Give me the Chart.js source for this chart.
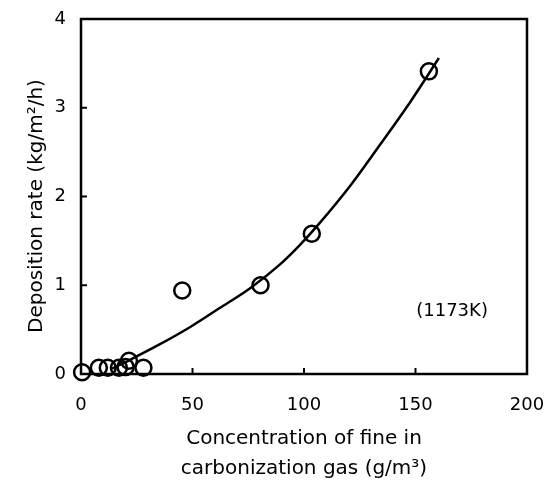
<!DOCTYPE html>
<html>
<head>
<meta charset="utf-8">
<script src="https://cdn.jsdelivr.net/npm/chart.js@4.4.1/dist/chart.umd.min.js"></script>
<style>
  html, body { margin: 0; padding: 0; background: #fff; }
  #wrap { width: 549px; height: 484px; position: relative; }
</style>
</head>
<body>
<div id="wrap"><canvas id="c" width="549" height="484"></canvas></div>
<script>
// Measured points: concentration of fine (g/m3) vs deposition rate (kg/m2/h)
const concentration = [0.5, 8, 12, 17, 20, 21.5, 28, 45.4, 80.5, 103.5, 156];
const depositionRate = [0.02, 0.07, 0.07, 0.07, 0.08, 0.15, 0.07, 0.94, 1.0, 1.58, 3.41];

// Fitted curve
const curveX = [14, 22, 35, 49, 62, 76, 89, 98, 107, 121, 134, 147.5, 160.5];
const curveY = [0.06, 0.16, 0.33, 0.53, 0.74, 0.97, 1.23, 1.45, 1.70, 2.13, 2.58, 3.06, 3.56];

const xTicks = [0, 50, 100, 150, 200];
const yTicks = [0, 1, 2, 3, 4];

const annotationText = '(1173K)';
const annotationX = 166.4;
const annotationY = 0.71;

const FONT = "'DejaVu Sans', sans-serif";

const framePlugin = {
  id: 'frame',
  afterDatasetsDraw(chart) {
    const {ctx, chartArea: a, scales: {x, y}} = chart;
    ctx.save();
    ctx.strokeStyle = '#000';
    ctx.lineWidth = 2.5;
    ctx.strokeRect(a.left, a.top, a.right - a.left, a.bottom - a.top);
    ctx.lineWidth = 2;
    ctx.beginPath();
    xTicks.forEach(v => {
      const px = x.getPixelForValue(v);
      ctx.moveTo(px, a.bottom);
      ctx.lineTo(px, a.bottom - 6);
    });
    yTicks.forEach(v => {
      const py = y.getPixelForValue(v);
      ctx.moveTo(a.left, py);
      ctx.lineTo(a.left + 6, py);
    });
    ctx.stroke();
    ctx.fillStyle = '#000';
    ctx.font = '18px ' + FONT;
    ctx.textAlign = 'center';
    ctx.textBaseline = 'middle';
    ctx.fillText(annotationText, x.getPixelForValue(annotationX), y.getPixelForValue(annotationY));
    ctx.restore();
  }
};

new Chart(document.getElementById('c'), {
  type: 'scatter',
  data: {
    datasets: [
      {
        label: 'curve',
        data: curveX.map((v, i) => ({x: v, y: curveY[i]})),
        showLine: true,
        borderColor: '#000',
        borderWidth: 2.5,
        pointRadius: 0,
        cubicInterpolationMode: 'monotone',
        fill: false
      },
      {
        label: 'measured',
        data: concentration.map((v, i) => ({x: v, y: depositionRate[i]})),
        pointRadius: 8,
        pointBorderWidth: 2.5,
        borderColor: '#000',
        backgroundColor: 'rgba(0,0,0,0)',
        pointBackgroundColor: 'rgba(0,0,0,0)',
        clip: false
      }
    ]
  },
  options: {
    responsive: false,
    animation: false,
    layout: { padding: { left: 0, right: 22, top: 19, bottom: 0 } },
    plugins: { legend: { display: false }, tooltip: { enabled: false } },
    scales: {
      x: {
        type: 'linear',
        min: 0, max: 200,
        afterBuildTicks(scale) { scale.ticks = xTicks.map(v => ({value: v})); },
        afterFit(scale) { scale.height = 110; scale.paddingLeft = 0; scale.paddingRight = 0; },
        grid: { display: false, drawTicks: false },
        border: { display: false },
        ticks: { color: '#000', font: { size: 18, family: FONT }, padding: 21, maxRotation: 0 },
        title: {
          display: true,
          text: ['Concentration of fine in', 'carbonization gas (g/m\u00B3)'],
          color: '#000',
          font: { size: 20, family: FONT, lineHeight: 1.5 },
          padding: { top: 0, bottom: 0 }
        }
      },
      y: {
        type: 'linear',
        min: 0, max: 4,
        afterBuildTicks(scale) { scale.ticks = yTicks.map(v => ({value: v})); },
        afterFit(scale) { scale.width = 81; scale.paddingTop = 0; scale.paddingBottom = 0; },
        grid: { display: false, drawTicks: false },
        border: { display: false },
        ticks: { color: '#000', font: { size: 18, family: FONT }, padding: 15 },
        title: {
          display: true,
          text: 'Deposition rate (kg/m\u00B2/h)\u00A0\u00A0\u00A0',
          color: '#000',
          font: { size: 20, family: FONT, lineHeight: 1.2 },
          padding: { top: 25, bottom: 0 }
        }
      }
    }
  },
  plugins: [framePlugin]
});
</script>
</body>
</html>
